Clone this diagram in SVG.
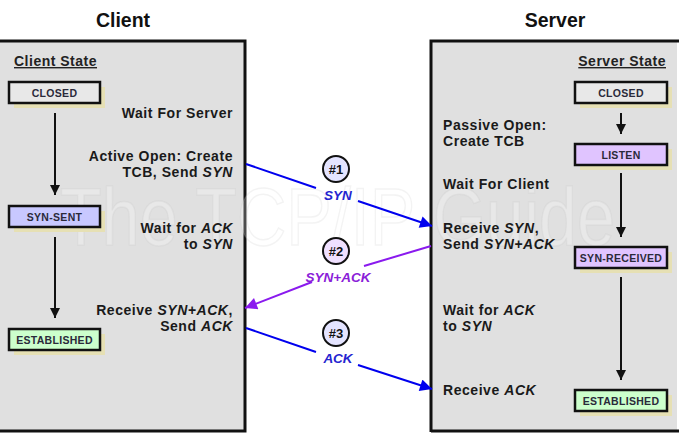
<svg xmlns="http://www.w3.org/2000/svg" width="689" height="439" viewBox="0 0 689 439">
<defs>
<style>
.title{font-family:"Liberation Sans",Arial,sans-serif;font-weight:bold;font-size:19.5px;fill:#111;text-anchor:middle}
.hdr{font-family:"Liberation Sans",Arial,sans-serif;font-weight:bold;font-size:14px;letter-spacing:0.5px;fill:#222;text-decoration:underline}
.lbl{font-family:"Liberation Sans",Arial,sans-serif;font-weight:bold;font-size:14px;letter-spacing:0.55px;fill:#1a1a1a}
.r{text-anchor:end}
.st{font-family:"Liberation Sans",Arial,sans-serif;font-weight:bold;font-size:10.5px;letter-spacing:0.3px;fill:#2a2a3a;text-anchor:middle}
.box{stroke:#111;stroke-width:2.5}
.shadow{fill:#e6e0b4}
.flow{fill:none;stroke:#111;stroke-width:2}
.circ{stroke:#111;stroke-width:2}
.num{font-family:"Liberation Sans",Arial,sans-serif;font-weight:bold;font-size:13px;fill:#111;text-anchor:middle}
.msg{font-family:"Liberation Sans",Arial,sans-serif;font-weight:bold;font-style:italic;font-size:13.5px;text-anchor:middle}
.wm{font-family:"Liberation Sans",Arial,sans-serif;font-size:82px;fill:#ffffff;fill-opacity:0.25;stroke:#bbbbbb;stroke-opacity:0.18;stroke-width:1.5}
</style>
<marker id="ah" viewBox="0 0 10 10" refX="10" refY="5" markerWidth="5" markerHeight="5" orient="auto" markerUnits="strokeWidth"><path d="M0,0 L10,5 L0,10 z" fill="#111"/></marker>
<marker id="ab" viewBox="0 0 10 10" refX="10" refY="5" markerWidth="6.5" markerHeight="6" orient="auto" markerUnits="strokeWidth"><path d="M0,0 L10,5 L0,10 z" fill="#0000ee"/></marker>
<marker id="ap" viewBox="0 0 10 10" refX="10" refY="5" markerWidth="6.5" markerHeight="6" orient="auto" markerUnits="strokeWidth"><path d="M0,0 L10,5 L0,10 z" fill="#8a1aee"/></marker>
</defs>
<rect width="689" height="439" fill="#ffffff"/>

<g id="client-panel">
<text class="title" x="123" y="27">Client</text>
<rect x="-5" y="41" width="250" height="390" fill="#e0e0e0" stroke="#111" stroke-width="3"/>
<text class="hdr" x="14" y="66">Client State</text>
</g>
<g id="server-panel">
<text class="title" x="555" y="27">Server</text>
<rect x="431" y="41" width="246" height="390" fill="#e0e0e0"/>
<path d="M431,432 L431,41 L679,41 M431,431 L679,431" fill="none" stroke="#111" stroke-width="3"/>
<text class="hdr r" x="666" y="66">Server State</text>
</g>

<text class="wm" x="60" y="245" textLength="555" lengthAdjust="spacingAndGlyphs">The TCP/IP Guide</text>

<g id="client-closed">
<rect class="shadow" x="14" y="87" width="91" height="21"/>
<rect class="box" x="9" y="82" width="91" height="21" fill="#e8e8e8"/>
<text class="st" x="54.5" y="96.5">CLOSED</text>
</g>
<g id="client-syn-sent">
<rect class="shadow" x="14" y="211" width="91" height="21"/>
<rect class="box" x="9" y="206" width="91" height="21" fill="#c8c8ff"/>
<text class="st" x="54.5" y="220.5">SYN-SENT</text>
</g>
<g id="client-established">
<rect class="shadow" x="14" y="334" width="91" height="21"/>
<rect class="box" x="9" y="329" width="91" height="21" fill="#ccffcc"/>
<text class="st" x="54.5" y="343.5">ESTABLISHED</text>
</g>

<g id="server-closed">
<rect class="shadow" x="580" y="87" width="92" height="21"/>
<rect class="box" x="575" y="82" width="92" height="21" fill="#e8e8e8"/>
<text class="st" x="621" y="96.5">CLOSED</text>
</g>
<g id="server-listen">
<rect class="shadow" x="580" y="149" width="92" height="21"/>
<rect class="box" x="575" y="144" width="92" height="21" fill="#e0c4ff"/>
<text class="st" x="621" y="158.5">LISTEN</text>
</g>
<g id="server-syn-received">
<rect class="shadow" x="580" y="252" width="92" height="21"/>
<rect class="box" x="575" y="247" width="92" height="21" fill="#e0c4ff"/>
<text class="st" x="621" y="261.5">SYN-RECEIVED</text>
</g>
<g id="server-established">
<rect class="shadow" x="580" y="395" width="92" height="21"/>
<rect class="box" x="575" y="390" width="92" height="21" fill="#ccffcc"/>
<text class="st" x="621" y="404.5">ESTABLISHED</text>
</g>

<g id="client-notes">
<text class="lbl r" x="233" y="118">Wait For Server</text>
<text class="lbl r" x="233" y="161">Active Open: Create</text>
<text class="lbl r" x="233" y="177">TCB, Send <tspan font-style="italic">SYN</tspan></text>
<text class="lbl r" x="233" y="233">Wait for <tspan font-style="italic">ACK</tspan></text>
<text class="lbl r" x="233" y="249">to <tspan font-style="italic">SYN</tspan></text>
<text class="lbl r" x="233" y="315">Receive <tspan font-style="italic">SYN+ACK</tspan>,</text>
<text class="lbl r" x="233" y="331">Send <tspan font-style="italic">ACK</tspan></text>
</g>
<g id="server-notes">
<text class="lbl" x="443" y="130">Passive Open:</text>
<text class="lbl" x="443" y="146">Create TCB</text>
<text class="lbl" x="443" y="189">Wait For Client</text>
<text class="lbl" x="443" y="233">Receive <tspan font-style="italic">SYN</tspan>,</text>
<text class="lbl" x="443" y="249">Send <tspan font-style="italic">SYN+ACK</tspan></text>
<text class="lbl" x="443" y="315">Wait for <tspan font-style="italic">ACK</tspan></text>
<text class="lbl" x="443" y="331">to <tspan font-style="italic">SYN</tspan></text>
<text class="lbl" x="443" y="395">Receive <tspan font-style="italic">ACK</tspan></text>
</g>

<g id="connectors">
<line class="flow" x1="55" y1="113" x2="55" y2="195" marker-end="url(#ah)"/>
<line class="flow" x1="55" y1="237" x2="55" y2="318" marker-end="url(#ah)"/>
<line class="flow" x1="621" y1="113" x2="621" y2="134" marker-end="url(#ah)"/>
<line class="flow" x1="621" y1="173" x2="621" y2="237" marker-end="url(#ah)"/>
<line class="flow" x1="621" y1="277" x2="621" y2="380" marker-end="url(#ah)"/>

<path d="M246,164 L316,188 M358,201 L432,226" fill="none" stroke="#0000ee" stroke-width="2" marker-end="url(#ab)"/>
<path d="M431,246 L364,266 M312,282 L245,308" fill="none" stroke="#8a1aee" stroke-width="2" marker-end="url(#ap)"/>
<path d="M246,328 L316,352 M358,365 L432,389" fill="none" stroke="#0000ee" stroke-width="2" marker-end="url(#ab)"/>

<circle class="circ" cx="336" cy="169" r="13" fill="#e4e4ff"/>
<text class="num" x="336" y="174">#1</text>
<text class="msg" x="338" y="200" fill="#2424d0">SYN</text>
<circle class="circ" cx="336" cy="251" r="13" fill="#f0e0ff"/>
<text class="num" x="336" y="256">#2</text>
<text class="msg" x="338" y="282" fill="#8a20d8">SYN+ACK</text>
<circle class="circ" cx="336" cy="333" r="13" fill="#e4e4ff"/>
<text class="num" x="336" y="338">#3</text>
<text class="msg" x="338" y="363" fill="#2424d0">ACK</text>
</g>
</svg>
